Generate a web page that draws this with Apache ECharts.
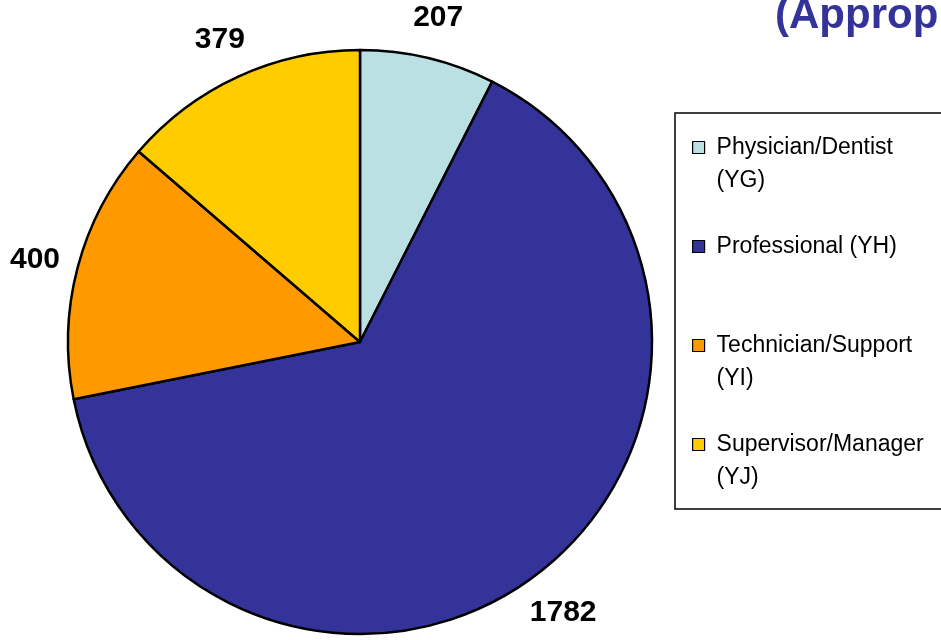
<!DOCTYPE html>
<html>
<head>
<meta charset="utf-8">
<script src="https://cdn.jsdelivr.net/npm/echarts@6/dist/echarts.min.js"></script>
<style>
  html, body { margin: 0; padding: 0; background: #fff; }
  #chart { width: 941px; height: 640px; }
</style>
</head>
<body>
<div id="chart"></div>
<script>
// categories (legend text, line break where the legend wraps)
const categories = ['Physician/Dentist\n(YG)', 'Professional (YH)', 'Technician/Support\n(YI)', 'Supervisor/Manager\n(YJ)'];
const counts = [207, 1782, 400, 379];
const colors = ['#BBE0E3', '#333399', '#FF9900', '#FFCC00'];
const titleText = '(Appropriated Fund)';

const chart = echarts.init(document.getElementById('chart'), null, { renderer: 'canvas' });

const pieData = categories.map((name, i) => ({ name: name, value: counts[i] }));

const option = {
  animation: false,
  backgroundColor: '#fff',
  title: {
    text: titleText,
    left: 775,
    top: -5,
    padding: 0,
    textStyle: { fontFamily: 'Liberation Sans, Arial', fontSize: 42, fontWeight: 'bold', color: '#333399' }
  },
  // legend frame, runs off the right edge like the original
  graphic: [{
    type: 'rect',
    z: 0,
    shape: { x: 675, y: 113, width: 300, height: 396 },
    style: { fill: '#fff', stroke: '#000', lineWidth: 1.5 }
  }],
  legend: {
    orient: 'vertical',
    left: 692,
    top: 98,
    padding: 0,
    itemGap: 0,
    icon: 'rect',
    itemWidth: 12,
    itemHeight: 12,
    z: 5,
    itemStyle: { borderColor: '#000', borderWidth: 1.2 },
    // blank first line keeps the box next to the first text line
    formatter: name => '\n' + name + (name.indexOf('\n') < 0 ? '\n' : ''),
    textStyle: { fontFamily: 'Liberation Sans, Arial', fontSize: 23, color: '#000', lineHeight: 33, padding: [0, 0, 0, 7] },
    data: categories
  },
  series: [
    {
      type: 'pie',
      center: [360, 342],
      radius: [0, 292],
      startAngle: 90,
      clockwise: true,
      silent: true,
      label: { show: false },
      labelLine: { show: false },
      itemStyle: {
        color: p => colors[p.dataIndex],
        borderColor: '#000',
        borderWidth: 2.5
      },
      data: pieData
    },
    {
      // transparent ring only used to place the value labels outside the pie
      type: 'pie',
      center: [360, 342],
      radius: [296, 370],
      startAngle: 90,
      clockwise: true,
      silent: true,
      z: 3,
      itemStyle: { color: 'rgba(0,0,0,0)', borderWidth: 0 },
      label: {
        show: true,
        position: 'inside',
        formatter: '{c}',
        offset: [0, 3],
        fontFamily: 'Liberation Sans, Arial',
        fontSize: 30,
        fontWeight: 'bold',
        color: '#000'
      },
      labelLine: { show: false },
      emphasis: { disabled: true },
      data: pieData
    }
  ]
};

chart.setOption(option);
</script>
</body>
</html>
